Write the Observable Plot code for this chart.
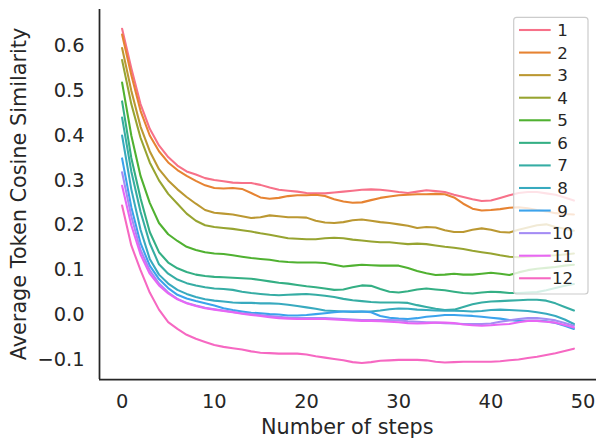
<!DOCTYPE html>
<html>
<head>
<meta charset="utf-8">
<script src="https://cdn.jsdelivr.net/npm/d3@7"></script>
<script src="https://cdn.jsdelivr.net/npm/@observablehq/plot@0.6"></script>
<style>
  html, body { margin: 0; padding: 0; background: #fff; }
  #chart svg { display: block; }
  #chart svg [aria-label$="tick label"],
  #chart svg [aria-label$="tick label"] text { font-size: 19.4px !important; fill: #262626; }
</style>
</head>
<body>
<div id="chart"></div>
<script>
// ---- data ----
const steps = d3.range(50);
const layers = ["1","2","3","4","5","6","7","8","9","10","11","12"];
const s1 = [0.638,0.55,0.47,0.415,0.378,0.352,0.333,0.32,0.313,0.305,0.301,0.298,0.295,0.294,0.294,0.29,0.284,0.279,0.277,0.275,0.272,0.271,0.271,0.273,0.275,0.277,0.279,0.280,0.279,0.277,0.274,0.272,0.275,0.278,0.276,0.274,0.268,0.263,0.258,0.254,0.255,0.261,0.267,0.272,0.274,0.274,0.271,0.268,0.262,0.255];
const s2 = [0.625,0.535,0.455,0.40,0.365,0.34,0.323,0.31,0.299,0.289,0.283,0.282,0.283,0.281,0.272,0.262,0.259,0.261,0.265,0.267,0.267,0.268,0.265,0.258,0.253,0.25,0.251,0.256,0.261,0.264,0.267,0.268,0.269,0.269,0.27,0.269,0.262,0.248,0.237,0.233,0.234,0.236,0.239,0.240,0.238,0.234,0.231,0.227,0.225,0.224];
const s3 = [0.595,0.5,0.42,0.365,0.325,0.3,0.28,0.263,0.248,0.234,0.228,0.226,0.224,0.22,0.216,0.218,0.222,0.22,0.218,0.218,0.217,0.21,0.206,0.205,0.207,0.211,0.213,0.21,0.207,0.205,0.202,0.199,0.194,0.196,0.195,0.189,0.185,0.185,0.19,0.193,0.19,0.185,0.184,0.19,0.195,0.2,0.202,0.196,0.192,0.188];
const s4 = [0.568,0.47,0.395,0.34,0.3,0.27,0.248,0.226,0.21,0.2,0.196,0.194,0.192,0.189,0.186,0.182,0.179,0.175,0.171,0.17,0.169,0.169,0.171,0.172,0.171,0.168,0.166,0.164,0.162,0.162,0.16,0.158,0.159,0.158,0.155,0.152,0.15,0.147,0.143,0.14,0.137,0.133,0.13,0.129,0.13,0.131,0.132,0.133,0.135,0.137];
const s5 = [0.518,0.40,0.31,0.25,0.205,0.18,0.165,0.152,0.145,0.14,0.137,0.136,0.133,0.13,0.127,0.125,0.123,0.12,0.118,0.117,0.117,0.117,0.116,0.112,0.108,0.11,0.112,0.111,0.11,0.11,0.11,0.105,0.098,0.093,0.089,0.09,0.092,0.09,0.09,0.092,0.094,0.092,0.089,0.095,0.1,0.103,0.105,0.107,0.11,0.112];
const s6 = [0.476,0.35,0.26,0.185,0.14,0.117,0.104,0.096,0.09,0.087,0.085,0.084,0.083,0.082,0.081,0.078,0.075,0.072,0.07,0.067,0.064,0.062,0.059,0.056,0.057,0.062,0.066,0.065,0.058,0.052,0.05,0.053,0.057,0.059,0.057,0.055,0.052,0.049,0.048,0.05,0.052,0.051,0.049,0.049,0.05,0.051,0.055,0.06,0.065,0.069];
const s7 = [0.44,0.32,0.23,0.16,0.113,0.092,0.079,0.071,0.066,0.062,0.059,0.058,0.056,0.052,0.049,0.047,0.045,0.044,0.045,0.046,0.047,0.045,0.043,0.04,0.036,0.033,0.031,0.029,0.028,0.028,0.028,0.027,0.022,0.018,0.014,0.011,0.012,0.018,0.024,0.028,0.03,0.031,0.032,0.033,0.034,0.034,0.032,0.026,0.018,0.01];
const s8 = [0.40,0.28,0.19,0.125,0.09,0.07,0.056,0.047,0.04,0.035,0.032,0.03,0.028,0.027,0.027,0.026,0.026,0.025,0.023,0.02,0.017,0.014,0.01,0.009,0.008,0.007,0.0075,0.008,0.01,0.013,0.0145,0.014,0.012,0.011,0.01,0.0098,0.0095,0.009,0.008,0.009,0.011,0.012,0.011,0.01,0.009,0.006,0.003,-0.002,-0.01,-0.02];
const s9 = [0.349,0.24,0.16,0.11,0.08,0.06,0.045,0.037,0.031,0.026,0.021,0.015,0.011,0.008,0.005,0.004,0.002,0.001,-0.001,-0.001,0.0,0.002,0.004,0.006,0.008,0.008,0.008,0.006,-0.002,-0.006,-0.008,-0.009,-0.007,-0.004,-0.002,0.0,0.0,-0.001,-0.002,-0.004,-0.006,-0.008,-0.011,-0.013,-0.013,-0.013,-0.014,-0.018,-0.024,-0.031];
const s10 = [0.318,0.22,0.145,0.1,0.07,0.05,0.036,0.027,0.021,0.016,0.013,0.01,0.007,0.004,0.002,0.0,-0.002,-0.004,-0.006,-0.007,-0.007,-0.007,-0.007,-0.008,-0.009,-0.01,-0.011,-0.011,-0.011,-0.011,-0.012,-0.014,-0.015,-0.016,-0.017,-0.018,-0.019,-0.02,-0.02,-0.02,-0.019,-0.015,-0.012,-0.009,-0.007,-0.007,-0.009,-0.012,-0.018,-0.024];
const s11 = [0.288,0.2,0.135,0.092,0.066,0.048,0.035,0.026,0.02,0.015,0.012,0.009,0.006,0.003,0.0,-0.002,-0.005,-0.007,-0.008,-0.009,-0.009,-0.009,-0.009,-0.01,-0.011,-0.012,-0.013,-0.013,-0.014,-0.015,-0.016,-0.018,-0.019,-0.018,-0.017,-0.017,-0.018,-0.021,-0.023,-0.024,-0.023,-0.021,-0.02,-0.016,-0.013,-0.013,-0.015,-0.017,-0.022,-0.028];
const s12 = [0.244,0.155,0.1,0.05,0.012,-0.016,-0.031,-0.044,-0.053,-0.06,-0.067,-0.071,-0.074,-0.077,-0.081,-0.084,-0.085,-0.086,-0.086,-0.086,-0.088,-0.092,-0.095,-0.098,-0.101,-0.105,-0.107,-0.105,-0.102,-0.101,-0.1,-0.1,-0.1,-0.101,-0.104,-0.106,-0.105,-0.104,-0.104,-0.104,-0.104,-0.103,-0.101,-0.099,-0.096,-0.093,-0.089,-0.085,-0.08,-0.075];
const seriesValues = [s1,s2,s3,s4,s5,s6,s7,s8,s9,s10,s11,s12];
const xTicks = [0,10,20,30,40,50];
const yTicks = [-0.1,0.0,0.1,0.2,0.3,0.4,0.5,0.6];
const xDomain = [-2.45, 51.45];
const yDomain = [-0.1437, 0.6808];

// ---- seaborn husl palette (HUSL -> RGB) ----
const M = [[3.2406,-1.5372,-0.4986],[-0.9689,1.8758,0.0415],[0.0557,-0.2040,1.0570]];
const refU = 0.19784, refV = 0.46834, labE = 0.008856, labK = 903.3;
function maxChroma(L, H) {
  const hr = H * Math.PI / 180, sinH = Math.sin(hr), cosH = Math.cos(hr);
  const sub1 = Math.pow(L + 16, 3) / 1560896;
  const sub2 = sub1 > labE ? sub1 : L / labK;
  let result = Infinity;
  for (const [m1, m2, m3] of M) {
    const top = (0.99915*m1 + 1.05122*m2 + 1.14460*m3) * sub2;
    const rb = 0.86330*m3 - 0.17266*m2;
    const lb = 0.12949*m3 - 0.38848*m1;
    const bottom = (rb*sinH + lb*cosH) * sub2;
    for (const t of [0, 1]) {
      const C = L * (top - 1.05122*t) / (bottom + 0.17266*sinH*t);
      if (C > 0 && C < result) result = C;
    }
  }
  return result;
}
function huslHex(H, S, L) {
  const C = maxChroma(L, H) / 100 * S;
  const hr = H * Math.PI / 180;
  const U = Math.cos(hr) * C, V = Math.sin(hr) * C;
  const t = (L + 16) / 116;
  const varY = Math.pow(t, 3) > labE ? Math.pow(t, 3) : (116*t - 16) / labK;
  const varU = U / (13*L) + refU, varV = V / (13*L) + refV;
  const Y = varY;
  const X = -(9*Y*varU) / ((varU - 4)*varV - varU*varV);
  const Z = (9*Y - 15*varV*Y - varV*X) / (3*varV);
  const rgb = M.map(r => {
    const c = r[0]*X + r[1]*Y + r[2]*Z;
    const s = c <= 0.0031308 ? 12.92*c : 1.055*Math.pow(c, 1/2.4) - 0.055;
    return Math.max(0, Math.min(1, s));
  });
  return "#" + rgb.map(c => Math.round(c*255).toString(16).padStart(2, "0")).join("");
}
const palette = layers.map((_, i) => huslHex(((i / layers.length + 0.01) % 1) * 359, 0.9 * 99, 0.65 * 99));

// ---- table ----
const table = seriesValues.flatMap((vals, i) => vals.map((v, j) => ({step: steps[j], value: v, layer: layers[i]})));

const ink = "#262626";
const chart = Plot.plot({
  width: 605,
  height: 448,
  marginLeft: 99,
  marginRight: 9,
  marginTop: 9,
  marginBottom: 69,
  x: {domain: xDomain},
  y: {domain: yDomain},
  color: {domain: layers, range: palette},
  style: {fontFamily: "DejaVu Sans", fontSize: "19.4px", background: "#fff", color: ink, overflow: "visible"},
  marks: [
    Plot.axisY({ticks: yTicks, tickSize: 0, tickPadding: 15, tickFormat: d3.format(".1f"), fontSize: 19.4, label: null}),
    Plot.axisX({ticks: xTicks, tickSize: 0, tickPadding: 15, tickFormat: d3.format("d"), fontSize: 19.4, label: null}),
    Plot.lineY(table, {x: "step", y: "value", z: "layer", stroke: "layer", strokeWidth: 2.08, curve: "linear"}),
    Plot.ruleX([xDomain[0]], {stroke: ink, strokeWidth: 1.75}),
    Plot.ruleY([yDomain[0]], {stroke: ink, strokeWidth: 1.75})
  ]
});
document.getElementById("chart").appendChild(chart);

// ---- axis titles and legend ----
const svg = d3.select(chart);
svg.append("text")
  .attr("x", 347.3).attr("y", 434)
  .attr("text-anchor", "middle")
  .style("font-family", "DejaVu Sans").style("font-size", "20.8px").attr("fill", ink)
  .text("Number of steps");
svg.append("text")
  .attr("transform", "translate(25.5,194) rotate(-90)")
  .attr("text-anchor", "middle")
  .style("font-family", "DejaVu Sans").style("font-size", "20.8px").attr("fill", ink)
  .text("Average Token Cosine Similarity");

const lg = svg.append("g");
lg.append("rect")
  .attr("x", 513.7).attr("y", 17.3).attr("width", 74.3).attr("height", 276.7)
  .attr("rx", 3).attr("fill", "#fff").attr("fill-opacity", 0.8)
  .attr("stroke", "#cccccc").attr("stroke-width", 1.2);
layers.forEach((name, i) => {
  const yy = 30 + i * 22.57;
  lg.append("line")
    .attr("x1", 519).attr("x2", 550.7).attr("y1", yy).attr("y2", yy)
    .attr("stroke", palette[i]).attr("stroke-width", 2.08);
  lg.append("text")
    .attr("x", 562.5).attr("y", yy).attr("dy", "0.36em")
    .style("font-family", "DejaVu Sans").style("font-size", "16.7px")
    .attr("fill", ink).text(name);
});
</script>
</body>
</html>
